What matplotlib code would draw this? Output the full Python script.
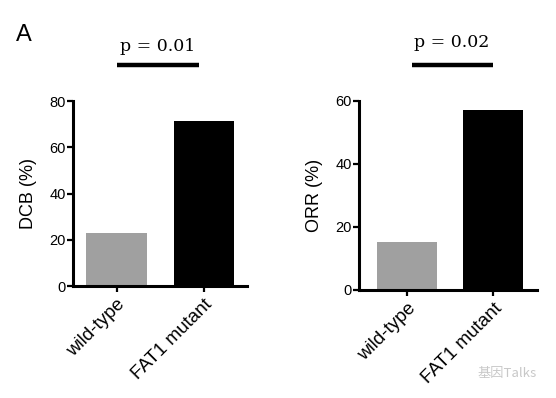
import matplotlib
matplotlib.use("Agg")
import matplotlib.pyplot as plt

# data
groups = ["wild-type", "FAT1 mutant"]
dcb_values = [23.0, 71.4]
orr_values = [15.3, 57.1]
dcb_p = "p = 0.01"
orr_p = "p = 0.02"
bar_colors = ["#a0a0a0", "#000000"]

plt.rcParams["font.family"] = ["Liberation Sans", "DejaVu Sans"]

fig = plt.figure(figsize=(5.56, 3.98), dpi=100)
ax1 = fig.add_axes([0.1313, 0.2814, 0.313, 0.4648])
ax2 = fig.add_axes([0.6457, 0.2714, 0.320, 0.4749])


def style_axis(ax, values, ylabel, ymax, yticks, xlim, ptext, pline_x, pline_y, ptext_xy):
    x = range(len(groups))
    ax.bar(x, values, width=0.69, color=bar_colors)
    ax.set_xlim(*xlim)
    ax.set_ylim(0, ymax)
    ax.set_yticks(yticks)
    ax.set_xticks(list(x))
    ax.set_xticklabels(groups, rotation=45, ha="right", rotation_mode="anchor",
                       fontsize=13.5)
    ax.set_ylabel(ylabel, fontsize=13, labelpad=9)
    for s in ["top", "right"]:
        ax.spines[s].set_visible(False)
    for s in ["left", "bottom"]:
        ax.spines[s].set_linewidth(2.2)
    ax.tick_params(axis="y", length=4, width=1.6, labelsize=10.5, pad=1)
    ax.tick_params(axis="x", length=4, width=1.6, pad=3)
    # significance bar and p value
    ax.plot(pline_x, [pline_y, pline_y], color="black", lw=3.2,
            solid_capstyle="butt", clip_on=False)
    ax.text(ptext_xy[0], ptext_xy[1], ptext, ha="center", va="center",
            fontsize=12.5, family="DejaVu Serif")


style_axis(ax1, dcb_values, "DCB (%)", 80, [0, 20, 40, 60, 80], (-0.5, 1.5),
           dcb_p, [0.01, 0.95], 95.6, (0.47, 103.5))
style_axis(ax2, orr_values, "ORR (%)", 60, [0, 20, 40, 60], (-0.56, 1.51),
           orr_p, [0.06, 1.0], 71.4, (0.52, 78.5))

fig.text(24 / 556, 1 - 35 / 398, "A", fontsize=17, ha="center", va="center")
fig.text(537 / 556, 1 - 374 / 398, "基因Talks", fontsize=9.5, color="#c8c8c8",
         ha="right", va="center", family=["Noto Sans CJK SC", "DejaVu Sans"])

fig.savefig("out.png", dpi=100)
